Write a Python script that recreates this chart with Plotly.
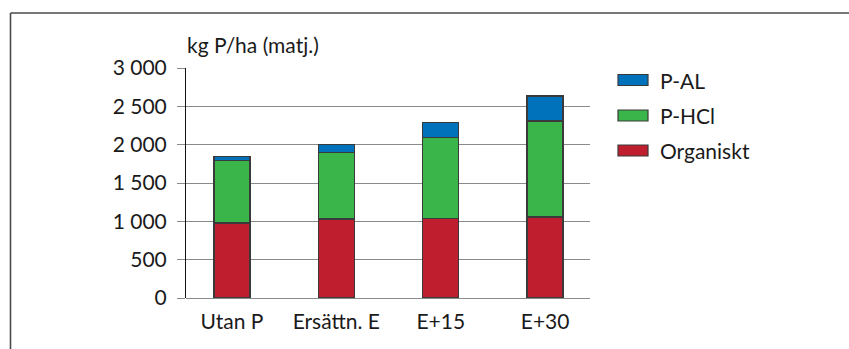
import plotly.graph_objects as go

# Phosphorus pools in topsoil, kg P/ha
categories = ["Utan P", "Ersättn. E", "E+15", "E+30"]
organiskt = [980, 1030, 1035, 1055]
p_hcl = [815, 865, 1060, 1255]
p_al = [52, 105, 195, 325]

series_names = ["Organiskt", "P-HCl", "P-AL"]
series_values = [organiskt, p_hcl, p_al]
series_colors = ["#BE1E2D", "#3AB54A", "#0072BC"]

tick_vals = [0, 500, 1000, 1500, 2000, 2500, 3000]
tick_text = ["0", "500", "1 000", "1 500", "2 000", "2 500", "3 000"]
y_title = "kg P/ha (matj.)"

W, H = 849, 349
ML, MR, MT, MB = 186, 259, 68, 51
PW, PH = W - ML - MR, H - MT - MB

FONT = "Lato"
FS = 21
TXT = "#1a1a1a"
OUTLINE = "#3a3a3a"


def px(x):
    return (x - ML) / PW


def py(y):
    return (H - MB - y) / PH


fig = go.Figure()
for name, vals, col in zip(series_names, series_values, series_colors):
    fig.add_trace(go.Bar(
        x=categories, y=vals, name=name, width=0.345,
        marker=dict(color=col, line=dict(color=OUTLINE, width=1.3)),
        showlegend=False,
    ))

shapes = []
# outer frame (top and left edges)
shapes.append(dict(type="line", xref="paper", yref="paper",
                   x0=px(10.5), x1=px(W + 2), y0=py(13), y1=py(13),
                   line=dict(color="#4a4a4a", width=1.6)))
shapes.append(dict(type="line", xref="paper", yref="paper",
                   x0=px(10.5), x1=px(10.5), y0=py(13), y1=py(H + 2),
                   line=dict(color="#4a4a4a", width=1.6)))

annotations = [dict(text=y_title, xref="paper", yref="paper",
                    x=px(185), y=py(45), xanchor="left", yanchor="middle",
                    showarrow=False, font=dict(family=FONT, size=FS, color=TXT))]

# legend swatches, top entry is the top of the stack
legend_rows = [80, 115.5, 150.5]
for row_y, name, col in zip(legend_rows, series_names[::-1], series_colors[::-1]):
    shapes.append(dict(type="rect", xref="paper", yref="paper",
                       x0=px(618), x1=px(648), y0=py(row_y - 5.5), y1=py(row_y + 5.5),
                       fillcolor=col, line=dict(color=OUTLINE, width=1.2)))
    annotations.append(dict(text=name, xref="paper", yref="paper",
                            x=px(658), y=py(row_y), xanchor="left", yanchor="middle",
                            showarrow=False, font=dict(family=FONT, size=FS, color=TXT)))

fig.update_layout(
    width=W, height=H,
    margin=dict(l=ML, r=MR, t=MT, b=MB, pad=0),
    paper_bgcolor="white", plot_bgcolor="white",
    barmode="stack",
    font=dict(family=FONT, size=FS, color=TXT),
    shapes=shapes, annotations=annotations,
    xaxis=dict(range=[-0.44, 3.43], showline=False, showgrid=False,
               ticks="", zeroline=False, ticklabelstandoff=9,
               tickfont=dict(family=FONT, size=FS, color=TXT), fixedrange=True),
    yaxis=dict(range=[0, 3000], tickvals=tick_vals, ticktext=tick_text,
               showline=True, linecolor="#111111", linewidth=1,
               ticks="outside", ticklen=8, tickcolor="#8a8a8a", tickwidth=1,
               showgrid=True, gridcolor="#8a8a8a", gridwidth=1,
               zeroline=True, zerolinecolor="#8a8a8a", zerolinewidth=1,
               ticklabelstandoff=6,
               tickfont=dict(family=FONT, size=FS, color=TXT), fixedrange=True),
)

fig.write_html("out.html", config={"displayModeBar": False})
